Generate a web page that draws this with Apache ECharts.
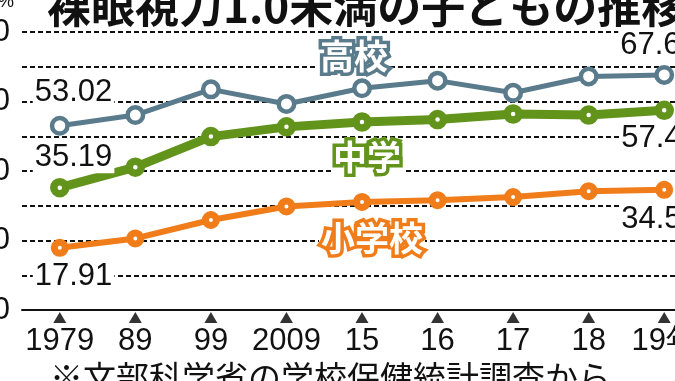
<!DOCTYPE html>
<html><head><meta charset="utf-8">
<script src="https://cdn.jsdelivr.net/npm/echarts@6/dist/echarts.min.js"></script>
<style>html,body{margin:0;padding:0;background:#fff}#c{width:675px;height:381px}</style>
</head><body><div id="c"></div><script>
const categories = ['1979', '89', '99', '2009', '15', '16', '17', '18', '19年'];
const highSchool = [53.02, 56.1, 63.5, 59.3, 63.8, 66.0, 62.5, 67.2, 67.64];
const middleSchool = [35.19, 41.1, 49.9, 52.7, 54.1, 54.8, 56.4, 56.1, 57.47];
const elementary = [17.91, 20.6, 25.9, 29.8, 31.1, 31.6, 32.5, 34.2, 34.57];
const yLabels = [0, 20, 40, 60, 80];
const seriesNames = ['高校', '中学', '小学校'];
const titleText = '裸眼視力1.0未満の子どもの推移';
const noteText = '※文部科学省の学校保健統計調査から';

const NUM_FONT = "'Liberation Sans Narrow', 'Liberation Sans', Arial, sans-serif";
const CJK_FONT = "'Noto Sans CJK JP', 'Noto Sans', sans-serif";
const C_HIGH = '#5a7b8b', C_MID = '#62941c', C_ELEM = '#f07d1a';
const NUM_SIZE = 31;

function endLabel(dx, dy) {
  return { show: true, position: 'inside', align: 'left', verticalAlign: 'middle', offset: [dx, dy],
    formatter: p => p.value.toFixed(2), color: '#111', fontSize: NUM_SIZE, fontFamily: NUM_FONT,
    backgroundColor: '#fff', padding: [0, 2], textBorderWidth: 0 };
}
function buildData(values, first, last) {
  return values.map((v, i) => {
    if (i === 0) return { value: v, label: endLabel(first[0], first[1]) };
    if (i === values.length - 1) return { value: v, label: endLabel(last[0], last[1]) };
    return v;
  });
}
function nameMark(name, color, cat, val, dx) {
  return { symbol: 'circle', symbolSize: 1, itemStyle: { color: 'transparent' }, silent: true,
    data: [{ coord: [cat, val], label: { show: true, position: 'inside', offset: [dx, 0], formatter: name,
      color: '#fff', fontSize: 34, fontWeight: 'bold', fontFamily: CJK_FONT,
      textBorderColor: color, textBorderWidth: 7, backgroundColor: '#fff', padding: [0, 2] } }] };
}

const chart = echarts.init(document.getElementById('c'));
chart.setOption({
  animation: false,
  backgroundColor: '#fff',
  grid: { left: 22, right: -27, top: 32, bottom: 71, containLabel: false, outerBoundsMode: 'none' },
  xAxis: {
    type: 'category', data: categories, boundaryGap: true,
    axisLine: { lineStyle: { color: '#111', width: 2 } },
    axisTick: { show: false },
    axisLabel: { interval: 0, margin: 16, fontSize: NUM_SIZE, color: '#111', fontFamily: NUM_FONT }
  },
  yAxis: {
    type: 'value', min: 0, max: 80, interval: 10,
    axisLine: { show: false }, axisTick: { show: false },
    axisLabel: { margin: 12, fontSize: NUM_SIZE, color: '#111', fontFamily: NUM_FONT,
      formatter: v => yLabels.includes(v) ? String(v) : '' },
    splitLine: { lineStyle: { type: [5, 3], color: '#111', width: 2 } }
  },
  graphic: [
    { type: 'text', x: 47, y: 6, style: { text: titleText, fontSize: 44, fontWeight: 'bold', fontFamily: CJK_FONT, fill: '#111', verticalAlign: 'middle' } },
    { type: 'text', x: 50, y: 377, style: { text: noteText, fontSize: 33, fontFamily: CJK_FONT, fill: '#111', verticalAlign: 'middle' } },
    { type: 'text', x: -2, y: 2, style: { text: '%', fontSize: 18, fontFamily: NUM_FONT, fill: '#111', verticalAlign: 'middle' } }
  ],
  series: [
    { type: 'scatter', data: categories.map(() => 0), symbol: 'triangle', symbolSize: [13, 11], symbolOffset: [0, 7.5],
      itemStyle: { color: '#000' }, silent: true, clip: false, z: 5 },
    { type: 'line', name: seriesNames[2], data: buildData(elementary, [-27, 28.5], [-45, 30]),
      symbol: 'circle', symbolSize: 11, showAllSymbol: true,
      lineStyle: { color: C_ELEM, width: 6 }, itemStyle: { color: '#fff', borderColor: C_ELEM, borderWidth: 7 },
      markPoint: nameMark(seriesNames[2], C_ELEM, categories[4], 20.7, 10), z: 3 },
    { type: 'line', name: seriesNames[1], data: buildData(middleSchool, [-27, -30], [-45, 28]),
      symbol: 'circle', symbolSize: 12, showAllSymbol: true,
      lineStyle: { color: C_MID, width: 9 }, itemStyle: { color: '#fff', borderColor: C_MID, borderWidth: 7.5 },
      markPoint: nameMark(seriesNames[1], C_MID, categories[4], 44, 5), z: 3 },
    { type: 'line', name: seriesNames[0], data: buildData(highSchool, [-27, -33], [-46, -29]),
      symbol: 'circle', symbolSize: 15.5, showAllSymbol: true,
      lineStyle: { color: C_HIGH, width: 5 }, itemStyle: { color: '#fff', borderColor: C_HIGH, borderWidth: 4.5 },
      markPoint: nameMark(seriesNames[0], C_HIGH, categories[4], 73.1, -8), z: 3 }
  ]
});
</script></body></html>
